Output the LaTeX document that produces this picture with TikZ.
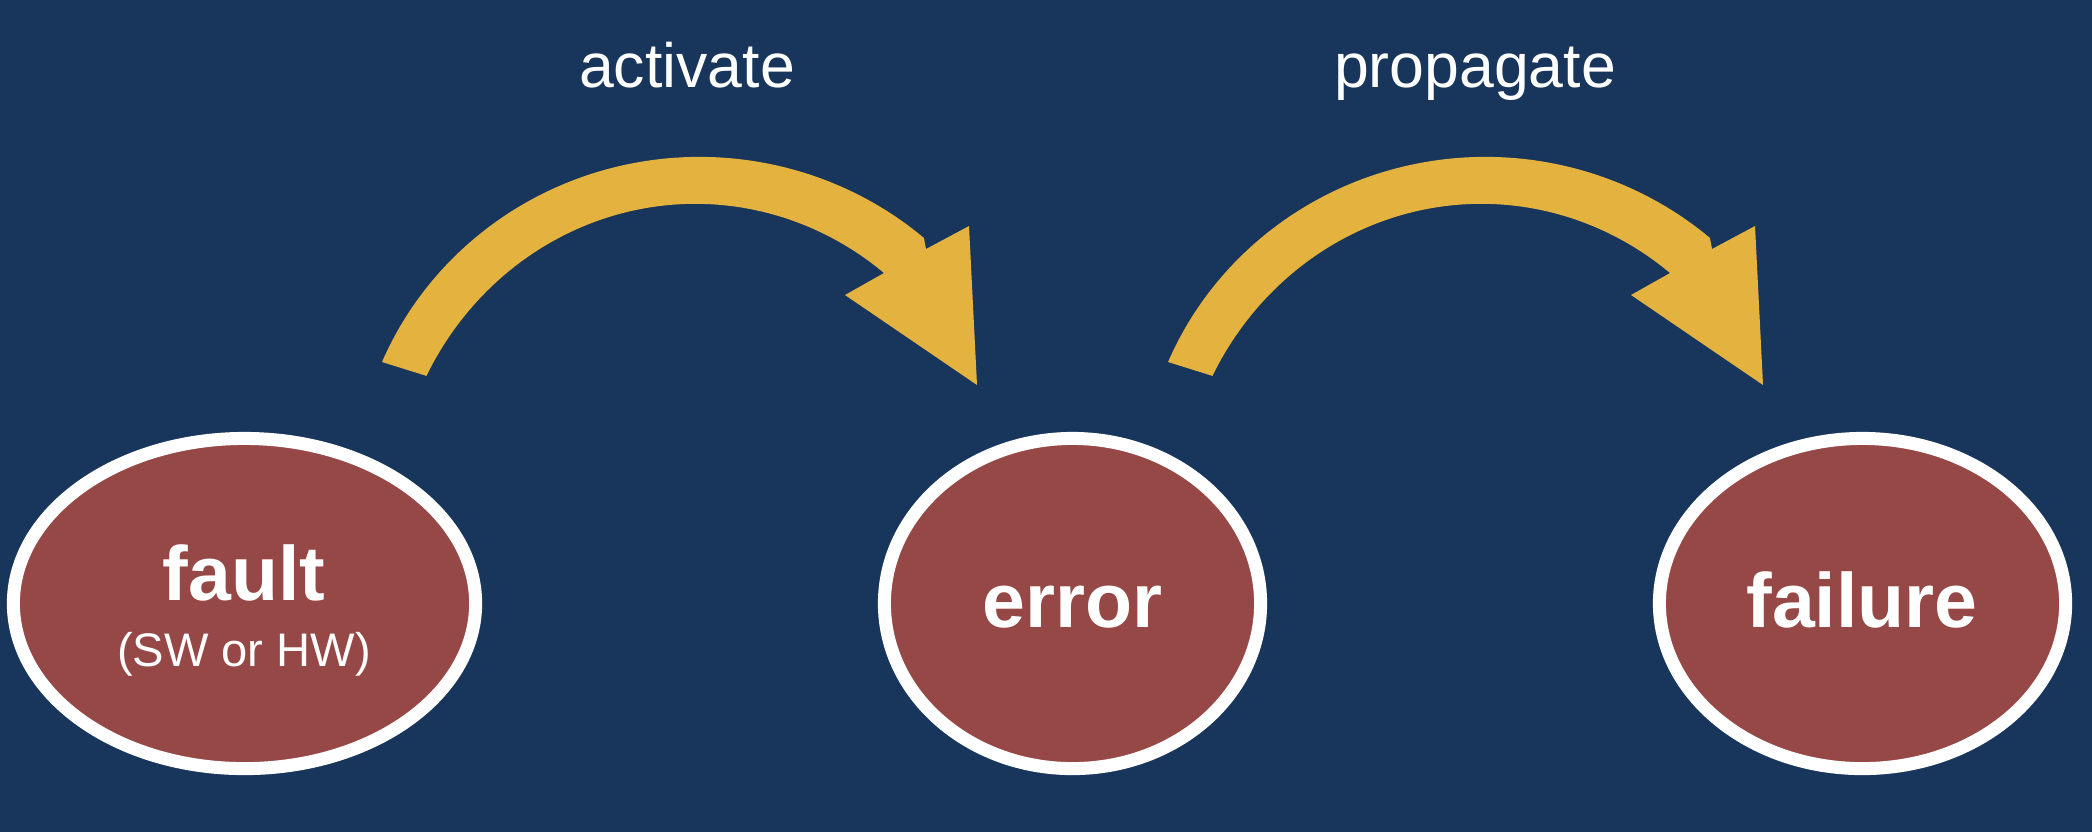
\documentclass[tikz,border=0pt]{standalone}
\usepackage{fontspec}
\setmainfont{Liberation Sans}
\usetikzlibrary{shapes.geometric}
\definecolor{bgblue}{HTML}{18355B}
\definecolor{ellred}{HTML}{964846}
\definecolor{arrgold}{HTML}{E4B23F}
\begin{document}
\begin{tikzpicture}[x=0.01cm,y=-0.01cm,
  ell/.style={ellipse, draw=white, line width=0.13cm, fill=ellred, inner sep=0pt, minimum height=3.30cm},
  bigtxt/.style={text=white, font=\fontsize{21.9}{26}\selectfont\bfseries, anchor=base, inner sep=0pt},
  smalltxt/.style={text=white, font=\fontsize{13.4}{16}\selectfont, anchor=base, inner sep=0pt},
  lbl/.style={text=white, font=\fontsize{17.8}{21}\selectfont, anchor=base, inner sep=0pt},
  bigarrow/.pic={
    \coordinate (-tailout) at (382,362);
    \coordinate (-kink) at (926,249);
    \coordinate (-barbout) at (969,226);
    \coordinate (-tip) at (977,385);
    \coordinate (-barbin) at (845,295);
    \coordinate (-headin) at (884,273);
    \fill[arrgold] (-tailout) arc[start angle=157, end angle=49.4, x radius=3.447cm, y radius=3.365cm]
      -- (-kink) -- (-barbout) -- (-tip) -- (-barbin) -- (-headin)
      arc[start angle=51.3, end angle=153, x radius=3.016cm, y radius=3.15cm] -- cycle;
  }
]
\fill[bgblue] (0,0) rectangle (2092,832);
\useasboundingbox (0,0) rectangle (2092,832);

\node[ell, minimum width=4.62cm] (fault) at (244.5,603.5) {};
\node[ell, minimum width=3.76cm] (error) at (1072.5,603.5) {};
\node[ell, minimum width=4.06cm] (failure) at (1862.5,603.5) {};

\node[bigtxt] (faulttxt) at (244,600) {fault};
\node[smalltxt] (faultsub) at (244,666) {(SW or HW)};
\node[bigtxt] (errortxt) at (1072.5,627) {error};
\node[bigtxt] (failuretxt) at (1862,627) {failure};

\pic (arrA) at (0,0) {bigarrow};
\pic (arrB) at (786,0) {bigarrow};

\node[lbl] (activate) at (687,87) {activate};
\node[lbl] (propagate) at (1475,87) {propagate};
\end{tikzpicture}
\end{document}
